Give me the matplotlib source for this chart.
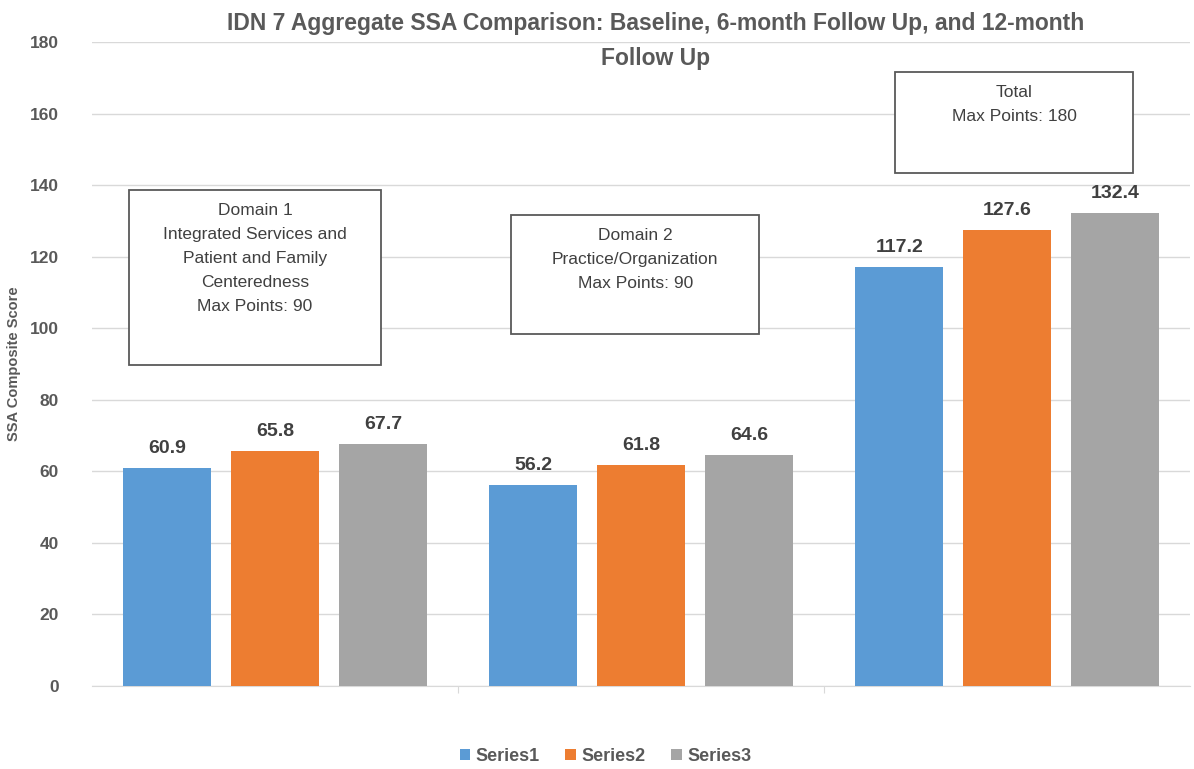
import matplotlib
matplotlib.use("Agg")
import matplotlib.pyplot as plt
from matplotlib.patches import Rectangle
import numpy as np

plt.rcParams['font.family'] = ['Liberation Sans', 'DejaVu Sans']

categories = ["Domain 1", "Domain 2", "Total"]
series_names = ["Series1", "Series2", "Series3"]
series1 = [60.9, 56.2, 117.2]
series2 = [65.8, 61.8, 127.6]
series3 = [67.7, 64.6, 132.4]
yticks = [0, 20, 40, 60, 80, 100, 120, 140, 160, 180]
box_texts = [
    "Domain 1\nIntegrated Services and\nPatient and Family\nCenteredness\nMax Points: 90",
    "Domain 2\nPractice/Organization\nMax Points: 90",
    "Total\nMax Points: 180",
]
title = "IDN 7 Aggregate SSA Comparison: Baseline, 6-month Follow Up, and 12-month\nFollow Up"
ylabel = "SSA Composite Score"

colors = ["#5B9BD5", "#ED7D31", "#A5A5A5"]
txt_col = "#595959"

fig = plt.figure(figsize=(11.94, 7.69), dpi=100)
ax = fig.add_axes([0.077, 0.108, 0.92, 0.837])

x = np.arange(len(categories))
w = 0.24
off = 0.295
for i, (vals, c, name) in enumerate(zip([series1, series2, series3], colors, series_names)):
    bars = ax.bar(x + (i - 1) * off, vals, width=w, color=c, label=name, zorder=3)
    for b, v in zip(bars, vals):
        ax.text(b.get_x() + b.get_width() / 2, v + 3, f"{v:.1f}", ha='center', va='bottom',
                fontsize=14, fontweight='bold', color="#404040")

ax.set_xlim(-0.5, 2.5)
ax.set_ylim(0, 180)
ax.set_yticks(yticks)
ax.set_yticklabels([str(t) for t in yticks], fontsize=12.5, fontweight='bold', color=txt_col)
ax.yaxis.grid(True, color="#D9D9D9", linewidth=1, zorder=0)
ax.tick_params(axis='y', length=0, pad=24)
ax.set_xticks([0.5, 1.5])
ax.set_xticklabels([])
ax.tick_params(axis='x', length=5, color="#D9D9D9", direction='out')
for s in ['top', 'right', 'left']:
    ax.spines[s].set_visible(False)
ax.spines['bottom'].set_color("#D9D9D9")
ax.set_ylabel(ylabel, fontsize=10.5, fontweight='bold', color=txt_col, labelpad=6)

fig.text(0.549, 0.984, title, ha='center', va='top', fontsize=16.5, fontweight='bold',
         color=txt_col, linespacing=1.65)

boxes = [(0.0337, 0.498, 0.2295, 0.272), (0.3816, 0.5466, 0.226, 0.1848), (0.7313, 0.7966, 0.2168, 0.1568)]
for (bx, by, bw, bh), t in zip(boxes, box_texts):
    ax.add_patch(Rectangle((bx, by), bw, bh, transform=ax.transAxes, fill=True,
                           facecolor='white', edgecolor="#595959", linewidth=1.3, zorder=5))
    ax.text(bx + bw / 2, by + bh - 0.02, t, transform=ax.transAxes, ha='center', va='top',
            fontsize=12.5, color="#404040", linespacing=1.75, zorder=6)

leg = fig.legend(loc='lower center', bbox_to_anchor=(0.507, -0.016), ncol=3, frameon=False,
                 fontsize=13, handlelength=0.6, handleheight=0.6, columnspacing=1.4, handletextpad=0.3)
for t in leg.get_texts():
    t.set_color(txt_col)
    t.set_fontweight('bold')

fig.savefig("out.png", dpi=100)
